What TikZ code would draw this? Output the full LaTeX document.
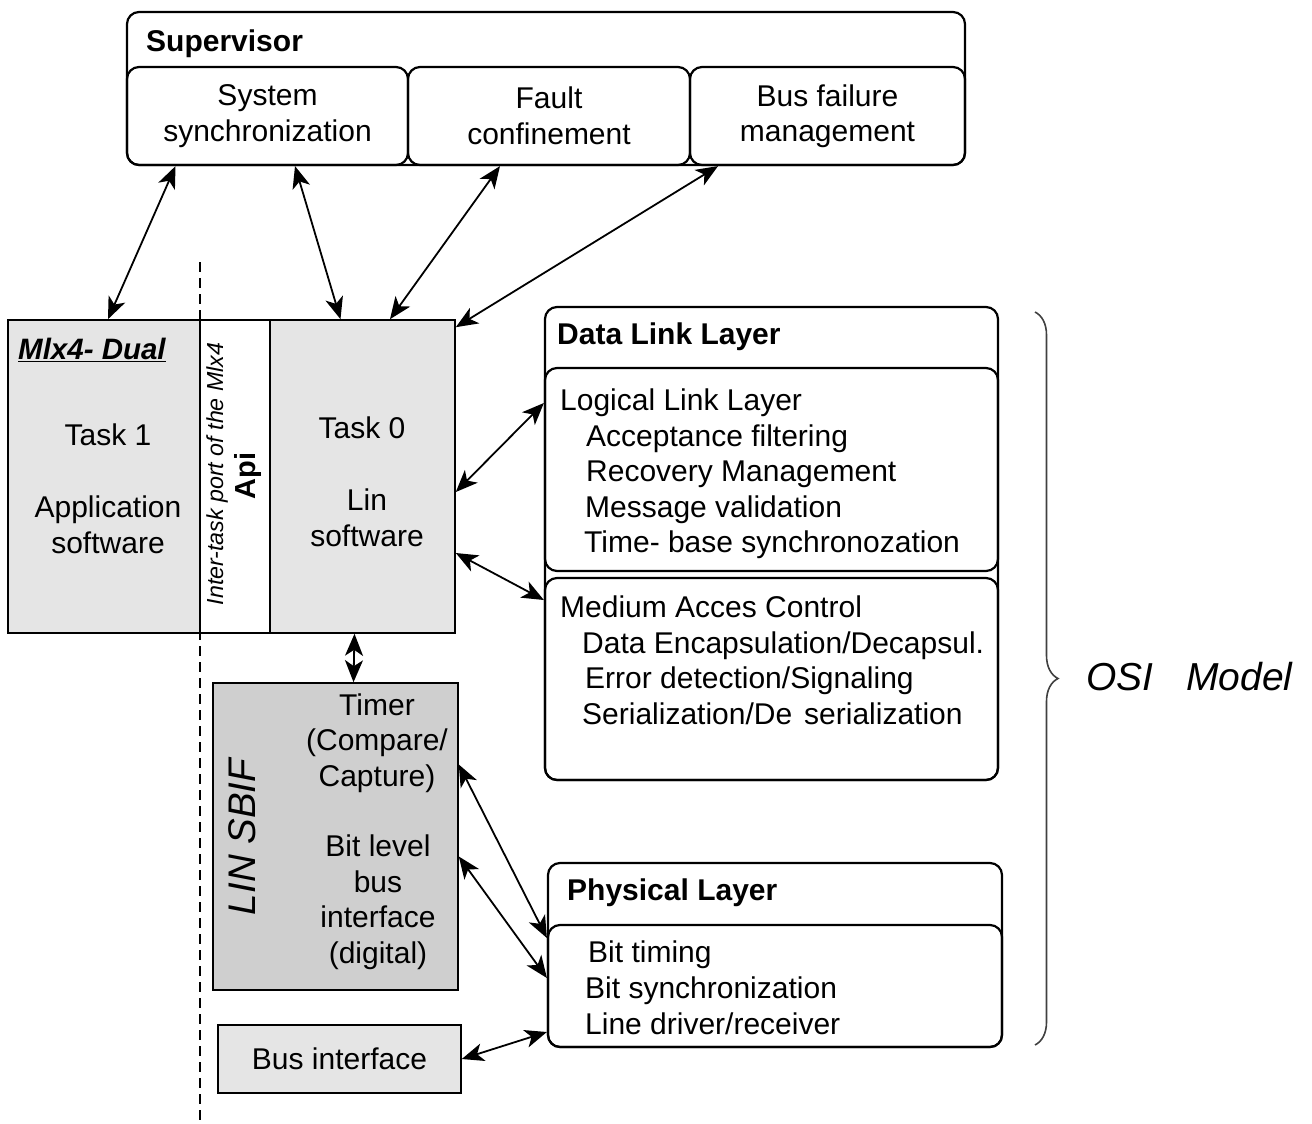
\documentclass[tikz,border=0pt]{standalone}
\usepackage{fontspec}
\setmainfont{Liberation Sans}
\usetikzlibrary{arrows.meta,decorations.pathreplacing}
\definecolor{lightbox}{gray}{0.9}
\definecolor{darkbox}{gray}{0.81}
\tikzset{
    box/.style={draw, line width=1.6pt, inner sep=0pt},
    roundbox/.style={draw, line width=2.2pt, inner sep=0pt, rounded corners=12pt},
    link/.style={{Stealth[length=22pt,width=18pt,inset=6pt]}-{Stealth[length=22pt,width=18pt,inset=6pt]}, line width=1.8pt},
    txt/.style={font=\fontsize{30}{35.5}\selectfont, align=center, inner sep=0pt},
    boldtitle/.style={font=\fontsize{30}{35}\selectfont\bfseries, inner sep=0pt, anchor=west},
    listtxt/.style={font=\fontsize{30}{35.5}\selectfont, align=left, inner sep=0pt, anchor=north west},
}
\begin{document}
\begin{tikzpicture}[x=1pt, y=-1pt]
    \useasboundingbox (0,0) rectangle (1312,1124);

    % Supervisor
    \node[roundbox, minimum width=838pt, minimum height=153pt] (sup) at (546,88.5) {};
    \node[boldtitle] (suptitle) at (146,44) {Supervisor};
    \node[roundbox, txt, minimum width=281pt, minimum height=98pt] (sync) at (267.5,116) {System\\synchronization};
    \node[roundbox, txt, minimum width=282pt, minimum height=98pt] (fault) at (549,116) {Fault\\confinement};
    \node[roundbox, txt, minimum width=275pt, minimum height=98pt] (busfail) at (827.5,116) {Bus failure\\management};

    % Separation line
    \coordinate (dtop) at (200,262);
    \coordinate (dbot) at (200,1124);
    \draw[line width=1.5pt, dash pattern=on 10pt off 6pt] (dtop) -- (dbot);

    % Mlx4 dual core
    \node[box, fill=lightbox, minimum width=192pt, minimum height=313pt] (task1) at (104,476.5) {};
    \node[box, fill=white, minimum width=70pt, minimum height=313pt] (api) at (235,476.5) {};
    \node[box, fill=lightbox, minimum width=185pt, minimum height=313pt] (task0) at (362.5,476.5) {};
    \node[font=\fontsize{29.5}{30}\selectfont\bfseries\itshape, anchor=west, inner sep=0pt] (mlxname) at (18,350) {\underline{Mlx4- Dual}};
    \node[txt] (task1name) at (108,435) {Task 1};
    \node[txt] (appsw) at (108,525) {Application\\software};
    \node[txt] (task0name) at (362,428) {Task 0};
    \node[txt] (linsw) at (367,518) {Lin\\software};
    \node[rotate=90, font=\fontsize{23.2}{24}\selectfont\itshape, inner sep=0pt] (apiport) at (217,474) {Inter-task port of the Mlx4};
    \node[rotate=90, font=\fontsize{29}{30}\selectfont\bfseries, inner sep=0pt] (apiname) at (248,476) {Api};

    % LIN SBIF
    \node[box, fill=darkbox, minimum width=245pt, minimum height=307pt] (sbif) at (335.5,836.5) {};
    \node[rotate=90, font=\fontsize{38.5}{40}\selectfont\itshape, inner sep=0pt] (sbifname) at (242,837) {LIN SBIF};
    \node[txt] (timer) at (377,743) {Timer\\(Compare/\\Capture)};
    \node[txt] (bitlevel) at (378,902) {Bit level\\bus\\interface\\(digital)};

    % Bus interface
    \node[box, fill=lightbox, txt, minimum width=243pt, minimum height=68pt] (busif) at (339.5,1059) {Bus interface};

    % Data link layer
    \node[roundbox, minimum width=453pt, minimum height=473pt] (dll) at (771.5,543.5) {};
    \node[boldtitle] (dlltitle) at (557,337) {Data Link Layer};
    \node[roundbox, minimum width=453pt, minimum height=203pt] (llc) at (771.5,469.5) {};
    \node[roundbox, minimum width=453pt, minimum height=202pt] (mac) at (771.5,679) {};
    \node[listtxt] (llctxt) at (560,389) {Logical Link Layer\\
        \hspace*{26pt}Acceptance filtering\\
        \hspace*{26pt}Recovery Management\\
        \hspace*{25pt}Message validation\\
        \hspace*{24pt}Time- base synchronozation};
    \node[listtxt] (mactxt) at (560,596) {Medium Acces Control\\
        \hspace*{22pt}Data Encapsulation/Decapsul.\\
        \hspace*{25pt}Error detection/Signaling\\
        \hspace*{22pt}Serialization/De\hspace{12pt}serialization};

    % Physical layer
    \node[roundbox, minimum width=454pt, minimum height=184pt] (phys) at (775,955) {};
    \node[boldtitle] (phystitle) at (567,893) {Physical Layer};
    \node[roundbox, minimum width=454pt, minimum height=122pt] (physin) at (775,986) {};
    \node[listtxt, font=\fontsize{30}{36}\selectfont] (phystxt) at (585,941) {\hspace*{3pt}Bit timing\\
        Bit synchronization\\
        Line driver/receiver};

    % OSI model
    \draw[line width=1.6pt, black!75, decorate, decoration={brace, amplitude=23pt}] (1035,312) -- (1035,1045);
    \node[font=\fontsize{39}{40}\selectfont\itshape, anchor=west, inner sep=0pt] (osi) at (1086,677) {OSI\hspace{33pt}Model};

    % Links
    \draw[link] ([xshift=-92pt]sync.south) -- ([xshift=4pt]task1.north);
    \draw[link] ([xshift=27.5pt]sync.south) -- ([xshift=-22pt]task0.north);
    \draw[link] ([xshift=-49pt]fault.south) -- ([xshift=27.5pt]task0.north);
    \draw[link] ([xshift=-109.5pt]busfail.south) -- ([yshift=-8pt]task0.north east);
    \draw[link] ([yshift=-15.5pt]task0.east) -- ([yshift=66.5pt]llc.west);
    \draw[link] ([yshift=-76.5pt]task0.east) -- ([yshift=79pt]mac.west);
    \draw[link] ([xshift=-8pt]task0.south) -- ([xshift=18pt]sbif.north);
    \draw[link] ([yshift=72pt]sbif.east) -- ([yshift=48pt]physin.west);
    \draw[link] ([yshift=-20pt]sbif.east) -- ([yshift=8pt]physin.west);
    \draw[link] (busif.east) -- ([yshift=-46pt]physin.west);
\end{tikzpicture}
\end{document}
